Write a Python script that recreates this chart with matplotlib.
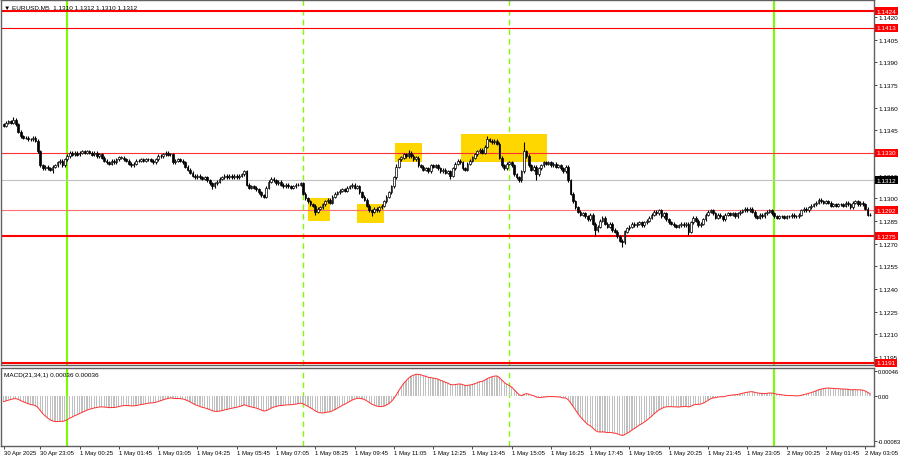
import matplotlib.pyplot as plt
import numpy as np
from matplotlib.patches import Rectangle

plt.rcParams['font.family'] = ['Liberation Sans', 'DejaVu Sans']

# EURUSD M5 closes, one per bar, first bar 30 Apr 21:50
closes = [
    1.1348, 1.1350, 1.1351, 1.1350, 1.1352, 1.1349, 1.1344, 1.1341, 1.1340, 1.1340,
    1.1339, 1.1339, 1.1340, 1.1338, 1.1331, 1.1322, 1.1320, 1.1321, 1.1320, 1.1319,
    1.1321, 1.1322, 1.1324, 1.1325, 1.1322, 1.1326, 1.1328, 1.1330, 1.1329, 1.1330,
    1.1329, 1.1330, 1.1331, 1.1330, 1.1331, 1.1330, 1.1329, 1.1330, 1.1328, 1.1329,
    1.1327, 1.1325, 1.1324, 1.1323, 1.1325, 1.1324, 1.1326, 1.1327, 1.1327, 1.1326,
    1.1325, 1.1323, 1.1322, 1.1323, 1.1325, 1.1325, 1.1326, 1.1325, 1.1326, 1.1326,
    1.1325, 1.1324, 1.1326, 1.1328, 1.1328, 1.1329, 1.1330, 1.1329, 1.1329, 1.1324,
    1.1325, 1.1326, 1.1325, 1.1324, 1.1321, 1.1319, 1.1317, 1.1315, 1.1314, 1.1315,
    1.1314, 1.1313, 1.1314, 1.1312, 1.1310, 1.1308, 1.1310, 1.1311, 1.1313, 1.1314,
    1.1315, 1.1314, 1.1315, 1.1314, 1.1315, 1.1314, 1.1315, 1.1316, 1.1318, 1.1309,
    1.1307, 1.1308, 1.1307, 1.1306, 1.1304, 1.1302, 1.1301, 1.1307, 1.1311, 1.1313,
    1.1312, 1.1310, 1.1311, 1.1309, 1.1308, 1.1309, 1.1308, 1.1307, 1.1308, 1.1309,
    1.1309, 1.1310, 1.1303, 1.1300, 1.1298, 1.1296, 1.1295, 1.1291, 1.1293, 1.1294,
    1.1296, 1.1298, 1.1299, 1.1297, 1.1301, 1.1303, 1.1304, 1.1305, 1.1306, 1.1305,
    1.1307, 1.1308, 1.1309, 1.1307, 1.1308, 1.1304, 1.1301, 1.1299, 1.1295, 1.1292,
    1.1291, 1.1293, 1.1292, 1.1294, 1.1295, 1.1298, 1.1301, 1.1304, 1.1308, 1.1314,
    1.1321, 1.1326, 1.1327, 1.1329, 1.1328, 1.1330, 1.1328, 1.1326, 1.1327, 1.1322,
    1.1321, 1.1319, 1.1320, 1.1318, 1.1322, 1.1321, 1.1322, 1.1320, 1.1318, 1.1319,
    1.1317, 1.1318, 1.1315, 1.1320, 1.1323, 1.1325, 1.1324, 1.1320, 1.1319, 1.1323,
    1.1325, 1.1327, 1.1329, 1.1331, 1.1332, 1.1330, 1.1334, 1.1339, 1.1338, 1.1337,
    1.1338, 1.1336, 1.1327, 1.1322, 1.1320, 1.1323, 1.1324, 1.1322, 1.1316, 1.1314,
    1.1312, 1.1318, 1.1331, 1.1328, 1.1322, 1.1319, 1.1321, 1.1316, 1.1320, 1.1322,
    1.1324, 1.1323, 1.1324, 1.1322, 1.1323, 1.1321, 1.1322, 1.1320, 1.1318, 1.1321,
    1.1312, 1.1303, 1.1298, 1.1294, 1.1291, 1.1289, 1.1290, 1.1288, 1.1286, 1.1289,
    1.1283, 1.1279, 1.1281, 1.1285, 1.1287, 1.1283, 1.1281, 1.1283, 1.1279, 1.1278,
    1.1275, 1.1272, 1.1271, 1.1278, 1.1280, 1.1281, 1.1283, 1.1282, 1.1283, 1.1284,
    1.1282, 1.1284, 1.1285, 1.1287, 1.1289, 1.1291, 1.1290, 1.1292, 1.1288, 1.1290,
    1.1286, 1.1284, 1.1283, 1.1282, 1.1281, 1.1282, 1.1283, 1.1282, 1.1283, 1.1278,
    1.1284, 1.1287, 1.1285, 1.1282, 1.1283, 1.1286, 1.1289, 1.1291, 1.1292, 1.1290,
    1.1287, 1.1289, 1.1288, 1.1286, 1.1289, 1.1290, 1.1289, 1.1290, 1.1288, 1.1290,
    1.1291, 1.1292, 1.1293, 1.1292, 1.1293, 1.1291, 1.1288, 1.1287, 1.1289, 1.1288,
    1.1290, 1.1291, 1.1292, 1.1290, 1.1288, 1.1287, 1.1288, 1.1288, 1.1287, 1.1288,
    1.1288, 1.1289, 1.1288, 1.1288, 1.1289, 1.1292, 1.1293, 1.1292, 1.1294, 1.1295,
    1.1296, 1.1297, 1.1299, 1.1298, 1.1297, 1.1298, 1.1297, 1.1295, 1.1296, 1.1295,
    1.1296, 1.1296, 1.1295, 1.1297, 1.1296, 1.1294, 1.1297, 1.1298, 1.1296, 1.1297,
    1.1296, 1.1293, 1.1289, 1.1289,
]
first_open = 1.1349
# longer wicks (bar index -> price)
spike_highs = {4: 1.1354, 160: 1.1323, 165: 1.1332, 197: 1.1341, 212: 1.1337, 333: 1.1300}
spike_lows = {20: 1.1317, 85: 1.1306, 127: 1.1289, 150: 1.1288, 182: 1.1313,
               217: 1.1312, 241: 1.1275, 252: 1.1268, 279: 1.1276}

# horizontal levels
levels = [1.1424, 1.1413, 1.1330, 1.1292, 1.1275, 1.1191]
level_width = [1.5, 0.8, 0.8, 0.8, 1.5, 1.5]
level_color = ['red', 'red', '#FF3030', '#FF7070', 'red', 'red']
bid = 1.1312
header = "\u25bc EURUSD,M5  1.1310 1.1312 1.1310 1.1312"

# highlighted zones: (first bar, last bar, low, high)
zones = [(124.2, 133.2, 1.1285, 1.13005),
         (144.2, 155.2, 1.12836, 1.12962),
         (159.3, 170.3, 1.1324, 1.13366),
         (186.2, 221.2, 1.1324, 1.13426)]

day_bars = [26, 314]       # 1 May 00:00, 2 May 00:00
session_bars = [122, 206]

time_labels = ["30 Apr 2025", "30 Apr 23:05", "1 May 00:25", "1 May 01:45", "1 May 03:05",
               "1 May 04:25", "1 May 05:45", "1 May 07:05", "1 May 08:25", "1 May 09:45",
               "1 May 11:05", "1 May 12:25", "1 May 13:45", "1 May 15:05", "1 May 16:25",
               "1 May 17:45", "1 May 19:05", "1 May 20:25", "1 May 21:45", "1 May 23:05",
               "2 May 00:25", "2 May 01:45", "2 May 03:05"]
time_label_bars = [0] + list(range(15, 352, 16))

macd_seed = -0.00011
macd_ticks = [0.00046, 0.0, -0.00083]

WICK = 0.0001
FS = 4.6
SPINE = '#606060'
LIME = '#7CFC00'


def ema(values, period, start):
    k = 2.0 / (period + 1)
    out, e = [], start
    for v in values:
        e = e + k * (v - e)
        out.append(e)
    return np.array(out)


c = np.array(closes)
o = np.array([first_open] + closes[:-1])
x = np.arange(len(c))
hi = np.maximum(o, c) + WICK
lo = np.minimum(o, c) - WICK
for k, v in spike_highs.items():
    hi[k] = max(hi[k], v)
for k, v in spike_lows.items():
    lo[k] = min(lo[k], v)

macd = ema(c, 21, c[0]) - ema(c, 34, c[0] - macd_seed)

fig = plt.figure(figsize=(9, 4.6), dpi=100)
W, H = 900.0, 460.0
ax = fig.add_axes([1 / W, (H - 366) / H, 873 / W, 365 / H])
ax2 = fig.add_axes([1 / W, (H - 447) / H, 873 / W, 78 / H])

for a in (ax, ax2):
    a.set_xlim(-1.02, 354.6)
    for s in a.spines.values():
        s.set_color(SPINE)
        s.set_linewidth(1.0)
    a.yaxis.tick_right()
    a.tick_params(axis='y', length=2, width=0.5, pad=1.2, labelsize=FS, colors='black')
    for b in day_bars:
        a.axvline(b, color=LIME, lw=1.5, zorder=1)
    for b in session_bars:
        a.axvline(b, color=LIME, lw=1.0, ls=(0, (4, 3)), zorder=1)

# main pane; the 1.1330 tick label sits under the level box, as in the terminal
ticks = np.arange(1.1195, 1.1421, 0.0015)
ax.set_ylim(1.11896, 1.14313)
ax.set_xticks([])
ax.set_yticks(ticks)
ax.set_yticklabels(["" if abs(t - 1.1330) < 1e-6 else f"{t:.4f}" for t in ticks])

for z0, z1, zl, zh in zones:
    ax.add_patch(Rectangle((z0, zl), z1 - z0, zh - zl, facecolor='#FFD700',
                           edgecolor='none', zorder=1.5))

ax.axhline(bid, color='#C0C0C0', lw=0.8, zorder=1.6)
for lv, lw, col in zip(levels, level_width, level_color):
    ax.axhline(lv, color=col, lw=lw, zorder=1.7)

ax.vlines(x, lo, hi, color='black', lw=0.8, zorder=3)
bull = c >= o
ax.bar(x[bull], (c - o)[bull] + 1e-6, bottom=o[bull], width=0.7, facecolor='white',
       edgecolor='black', linewidth=0.5, zorder=4)
ax.bar(x[~bull], (c - o)[~bull] - 1e-6, bottom=o[~bull], width=0.7, facecolor='black',
       edgecolor='black', linewidth=0.5, zorder=4)

ytr = ax.get_yaxis_transform()
for lv in levels:
    ax.text(1.003, lv, f"{lv:.4f}", transform=ytr, color='white', fontsize=FS,
            va='center', ha='left', clip_on=False, zorder=10,
            bbox=dict(facecolor='red', edgecolor='none', pad=1.1))
ax.text(1.003, bid, f"{bid:.4f}", transform=ytr, color='white', fontsize=FS,
        va='center', ha='left', clip_on=False, zorder=10,
        bbox=dict(facecolor='black', edgecolor='none', pad=1.1))
ax.text(0.004, 0.988, header, transform=ax.transAxes, fontsize=FS, va='top', ha='left')

# MACD pane
ax2.set_ylim(-0.00092, 0.000515)
ax2.bar(x, macd, width=0.5, color='#C0C0C0', zorder=2)
ax2.plot(x, macd, color='#FF3030', lw=0.7, zorder=3)
ax2.set_yticks(macd_ticks)
ax2.set_yticklabels(["0.00046", "0.00", "-0.00083"])
ax2.tick_params(axis='y', labelsize=4.2, pad=1.0)
ax2.set_xticks(time_label_bars)
ax2.set_xticklabels(time_labels)
ax2.tick_params(axis='x', length=2, width=0.5, pad=1, labelsize=4.3)
for lbl in ax2.get_xticklabels():
    lbl.set_ha('left')
ax2.text(0.004, 0.95, "MACD(21,34,1) 0.00036 0.00036", transform=ax2.transAxes,
         fontsize=FS, va='top', ha='left')

fig.savefig('out.png', dpi=100, facecolor='white')
